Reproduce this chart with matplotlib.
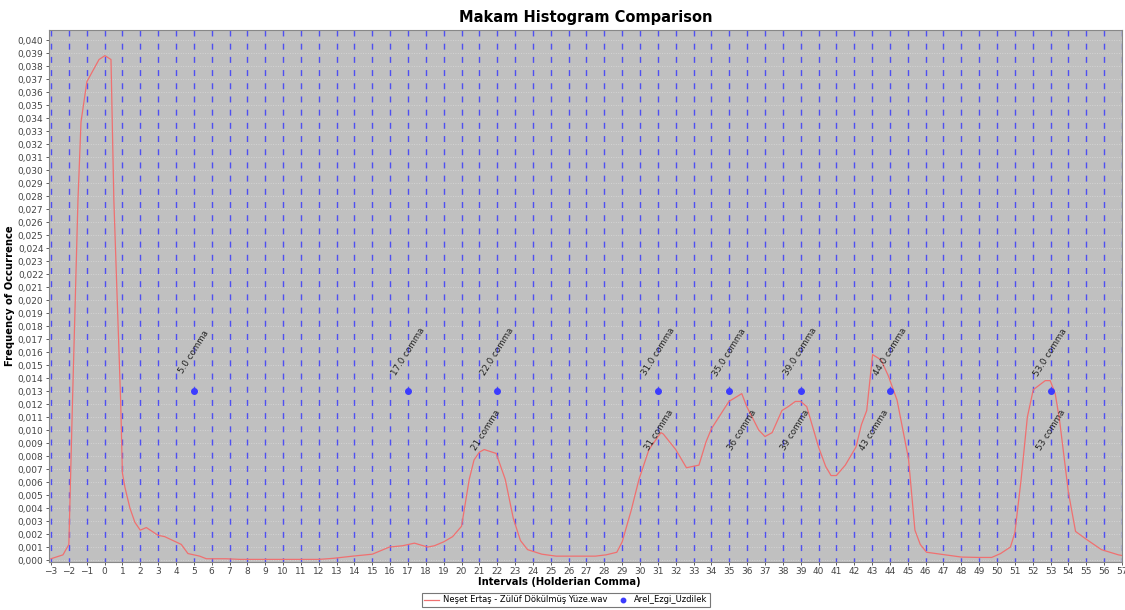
import matplotlib
matplotlib.use('Agg')
import matplotlib.pyplot as plt
from matplotlib.ticker import FuncFormatter, MultipleLocator
import numpy as np

# red series
histX = [-3, -2.33, -2.0, -1.8, -1.49, -1.32, -0.99, -0.31, 0.02, 0.36, 0.52, 0.9, 1.0, 1.14,
         1.42, 1.70, 2.0, 2.34, 3.0, 3.37, 4.3, 4.67, 5.33, 5.7, 6.8, 7.6, 9.0, 10.5, 12.0,
         12.8, 13.9, 15.0, 15.96, 16.7, 17.36, 18.1, 18.48, 19.0, 19.5, 20.0, 20.43, 20.7,
         21.0, 21.27, 21.94, 22.45, 22.9, 23.3, 23.7, 24.5, 25.3, 26.0, 27.5, 28.1, 28.7,
         29.0, 29.5, 29.94, 30.5, 31.17, 31.3, 32.0, 32.6, 33.3, 33.7, 34.0, 34.98, 35.7,
         35.98, 36.65, 37.0, 37.4, 37.95, 38.3, 38.7, 39.0, 39.34, 40.0, 40.4, 40.7, 41.0,
         41.5, 42.1, 42.4, 42.7, 43.03, 43.5, 43.9, 44.4, 45.04, 45.4, 45.7, 46.05, 47.1,
         48.0, 48.96, 49.7, 50.2, 50.75, 51.0, 51.35, 51.7, 52.03, 52.7, 52.98, 53.26, 53.5,
         54.0, 54.4, 55.0, 55.85, 56.8, 57.2]
histY = [0.0001, 0.0004, 0.0012, 0.012, 0.0277, 0.0337, 0.0368, 0.0385, 0.0388, 0.0385,
         0.0277, 0.0123, 0.0067, 0.0056, 0.0040, 0.0029, 0.0023, 0.0025, 0.0019, 0.0018,
         0.0012, 0.0005, 0.0003, 0.0001, 0.0001, 0.00005, 0.00005, 0.00005, 0.00005,
         0.00013, 0.0003, 0.00045, 0.0010, 0.0011, 0.0013, 0.0010, 0.0011, 0.0014, 0.0018,
         0.0026, 0.0062, 0.0077, 0.0083, 0.0085, 0.0082, 0.0062, 0.0032, 0.0015, 0.0008,
         0.00045, 0.0003, 0.0003, 0.0003, 0.0004, 0.0006, 0.0014, 0.0038, 0.0062, 0.0085,
         0.0098, 0.0097, 0.0085, 0.0071, 0.0073, 0.0091, 0.0101, 0.0122, 0.0128, 0.0118,
         0.0100, 0.0095, 0.0098, 0.0115, 0.0118, 0.0122, 0.0122, 0.0118, 0.0087, 0.0072,
         0.0065, 0.0065, 0.0073, 0.0087, 0.0104, 0.0115, 0.0158, 0.0154, 0.0142, 0.0123,
         0.0078, 0.0023, 0.0012, 0.0006, 0.0004, 0.00023, 0.0002, 0.0002, 0.0005, 0.0010,
         0.0021, 0.0062, 0.0110, 0.0131, 0.0138, 0.0138, 0.0128, 0.0108, 0.0052, 0.0022,
         0.0016, 0.0008, 0.0004, 0.0003]

# blue scale points
scaleX = [5, 17, 22, 31, 35, 39, 44, 53]
scaleY = [0.013] * len(scaleX)

# peak labels of the red series
peakX = [21.4, 31.06, 35.7, 38.7, 43.1, 53.04]
peakLabels = ['21 comma', '31 comma', '36 comma', '39 comma', '43 comma', '53 comma']

fig = plt.figure(figsize=(11.25, 6.1), dpi=100)
ax = fig.add_axes([0.0436, 0.0787, 0.9537, 0.8721])
ax.set_facecolor('#c0c0c0')

xmin, xmax = -3.11, 57.0
ymin, ymax = -0.00015, 0.04077
ax.set_xlim(xmin, xmax)
ax.set_ylim(ymin, ymax)

# grid
for yv in np.arange(0.0, 0.0405, 0.001):
    ax.axhline(yv, color='#d4d4d4', lw=0.7, ls=(0, (1, 1.5)), zorder=1)
for xv in range(-3, 58):
    ax.plot([xv, xv], [ymax, ymin], color='#3333ff', alpha=0.8, lw=1.0,
            ls=(0, (4.3, 5.2)), zorder=2)

ax.plot(histX, histY, color='#f07070', lw=0.9, zorder=4,
        label='Neşet Ertaş - Zülüf Dökülmüş Yüze.wav')
ax.plot(scaleX, scaleY, 'o', color='#3c3cff', ms=4, zorder=5, label='Arel_Ezgi_Uzdilek',
        linestyle='none')

for sx in scaleX:
    ax.text(sx, 0.0160, '%.1f comma' % sx, rotation=58, ha='center', va='center',
            fontsize=6.3, color='#222222', zorder=6, rotation_mode='anchor')
for px, lab in zip(peakX, peakLabels):
    ax.text(px, 0.0100, lab, rotation=58, ha='center', va='center',
            fontsize=6.3, color='#222222', zorder=6, rotation_mode='anchor')

ax.xaxis.set_major_locator(MultipleLocator(1))
ax.set_yticks(np.arange(0.0, 0.0405, 0.001))
ax.yaxis.set_major_formatter(FuncFormatter(lambda v, p: ('%.3f' % v).replace('.', ',')))
ax.tick_params(axis='both', labelsize=6.5, colors='#444444', length=2, width=0.6, pad=2)
ax.tick_params(axis='x', pad=1.5)

for s in ax.spines.values():
    s.set_color('#888888')
    s.set_linewidth(0.8)

ax.set_title('Makam Histogram Comparison', fontsize=10.5, fontweight='bold', pad=6)
fig.text(0.497, 1 - 582 / 610, 'Intervals (Holderian Comma)', fontsize=7.2,
         fontweight='bold', ha='center', va='center')
ax.set_ylabel('Frequency of Occurrence', fontsize=7.2, fontweight='bold', labelpad=2)

leg = fig.legend(loc='center', bbox_to_anchor=(0.503, 1 - 600 / 610), ncol=2, fontsize=6,
                 frameon=True, fancybox=False, edgecolor='#555555', handlelength=1.8,
                 borderpad=0.35, columnspacing=1.0, handletextpad=0.4, markerscale=0.8)
leg.get_frame().set_linewidth(0.8)

fig.savefig('out.png', dpi=100)
